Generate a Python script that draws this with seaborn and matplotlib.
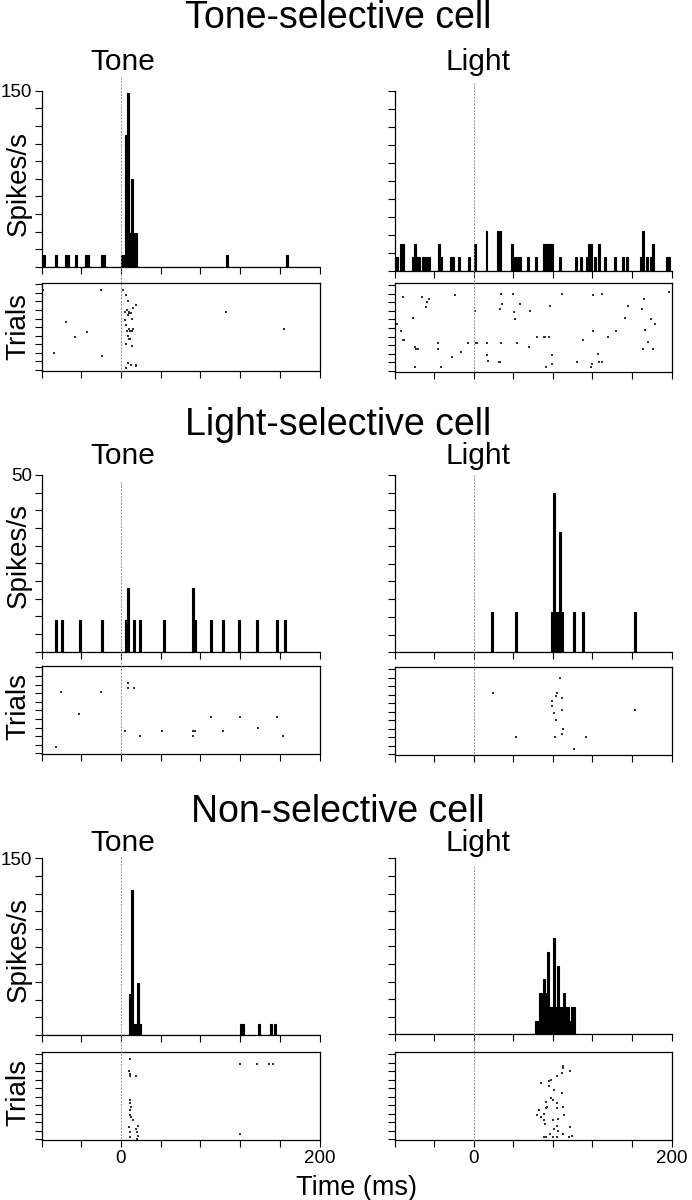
import numpy as np
import pandas as pd
import matplotlib
matplotlib.use("Agg")
import matplotlib.pyplot as plt
import matplotlib.transforms as mtransforms
from matplotlib.lines import Line2D
import seaborn as sns

sns.set_style("ticks")
plt.rcParams["font.family"] = ["Liberation Sans", "DejaVu Sans"]
plt.rcParams["text.color"] = "black"
plt.rcParams["axes.labelcolor"] = "black"
plt.rcParams["xtick.color"] = "black"
plt.rcParams["ytick.color"] = "black"

# ---------------- data ----------------
section_titles = ["Tone-selective cell", "Light-selective cell", "Non-selective cell"]
column_titles = ["Tone", "Light"]
y_max = [150, 50, 150]
x_tick_values = [-80, -40, 0, 40, 80, 120, 160, 200]
x_tick_labels = ["", "", "0", "", "", "", "", "200"]
BIN_W = 2

# PSTH: bin start (ms) and rate (spikes/s)
ts_tone_bins = [-78, -66, -56, -54, -46, -36, -34, -20, -18, 0, 2, 4, 6, 8, 10, 12, 14, 106, 166]
ts_tone_rate = [10, 10, 10, 10, 10, 10, 10, 10, 10, 10, 10, 112, 148, 29, 75, 29, 29, 10, 10]

ts_light_bins = [-80, -78, -74, -72, -62, -60, -58, -56, -52, -50, -48, -46, -36, -34, -24,
                 -22, -16, -6, 0, 12, 24, 26, 38, 40, 42, 44, 46, 54, 62, 70,
                 72, 74, 76, 78, 86, 102, 108, 114, 116, 118, 122, 126, 132, 142, 150,
                 154, 168, 170, 174, 178, 180, 194, 196]
ts_light_rate = [11.5, 11.5, 22, 22, 11.5, 22, 11.5, 11.5, 11.5, 11.5, 11.5, 11.5, 22, 11.5, 11.5,
                 11.5, 11.5, 11.5, 22, 33, 33, 33, 22, 11.5, 11.5, 11.5, 11.5, 11.5, 11.5, 22,
                 22, 22, 22, 22, 11.5, 11.5, 11.5, 11.5, 22, 22, 11.5, 22, 11.5, 11.5, 11.5,
                 11.5, 11.5, 33, 11.5, 11.5, 22, 11.5, 11.5]

ls_tone_bins = [-66, -60, -42, -20, 4, 6, 12, 18, 42, 72, 74, 90, 102, 118, 136, 156, 164]
ls_tone_rate = [9, 9, 9, 9, 9, 18, 9, 9, 9, 18, 9, 9, 9, 9, 9, 9, 9]

ls_light_bins = [18, 42, 78, 80, 82, 84, 86, 88, 100, 110, 162]
ls_light_rate = [11.3, 11.3, 11.3, 45, 11.3, 11.3, 34, 11.3, 11.3, 11.3, 11.3]

ns_tone_bins = [8, 10, 12, 14, 16, 18, 120, 122, 138, 150, 154]
ns_tone_rate = [35, 123, 9.3, 9.3, 44, 9.3, 9.3, 9.3, 9.3, 9.3, 9.3]

ns_light_bins = [62, 64, 66, 68, 70, 72, 74, 76, 78, 80, 82, 84, 86, 88, 90, 92, 94, 96, 98, 100]
ns_light_rate = [11.7, 11.7, 35, 35, 47, 35, 70, 23.4, 23.4, 82, 23.4, 58.5, 23.4, 23.4, 35,
                 23.4, 23.4, 11.7, 23.4, 23.4]

# Rasters: spike time (ms) and trial number
ts_tone_t = [-78.2, -20.2, 1.7, 5.0, 6.7, 15.1, 11.7, 4.3, 6.0, 7.7, 8.4, 10.1, 6.7, 10.7, 4.3,
             5.0, 8.4, 6.0, 9.4, 11.1, 11.7, 6.7, 7.7, 9.1, 5.0, 10.7, 6.7, 10.1, 5.0, 15.1,
             15.1, -55.6, -33.7, -46.2, -67.4, -19.2, 106.1, 164.3]
ts_tone_n = [47, 47, 47, 44, 40, 38, 36, 34, 35, 34, 33, 33, 32, 30, 29,
             26, 24, 23, 23, 23, 24, 20, 18, 18, 15, 14, 4, 3, 1, 3,
             2, 28, 22, 19, 10, 8, 34, 24]

ts_light_t = [-77.7, -73.4, -71.7, -71.0, -70.3, -61.6, -59.0, -58.3, -56.6, -59.3, -52.3, -48.2,
              -47.2, -44.9, -36.5, -35.8, -32.5, -21.4, -19.1, -13.1, -5.7, 1.0, 2.0, 3.0, 13.7,
              13.7, 14.4, 25.5, 26.5, 26.5, 27.8, 27.8, 28.8, 39.9, 40.5, 42.2, 43.9, 47.2, 56.3,
              57.3, 64.0, 70.7, 72.4, 76.4, 77.4, 79.1, 79.1, 73.4, 89.1, 104.2, 110.9, 118.3,
              119.3, 120.3, 120.9, 126.0, 127.0, 129.3, 130.0, 136.0, 144.4, 152.8, 156.2, 170.5,
              171.2, 172.2, 172.9, 176.2, 179.6, 181.2, 182.9, 197.0]
ts_light_n = [27, 23, 43, 18, 18, 31, 14, 13, 13, 2, 43, 37,
              40, 42, 16, 13, 2, 8, 44, 11, 16, 35, 16, 16, 16,
              9, 6, 5, 5, 36, 45, 16, 39, 45, 34, 30, 16, 39, 14,
              35, 20, 20, 20, 20, 38, 9, 4, 2, 45, 5, 18, 2,
              4, 23, 44, 10, 5, 45, 5, 20, 23, 31, 38, 36,
              13, 42, 24, 17, 30, 13, 27, 46]

ls_tone_t = [-60.6, -20.2, -42.1, -65.7, 6.7, 6.7, 12.8, 4.0, 19.5, 41.4, 72.3, 74.7, 72.3,
             90.9, 103.3, 119.5, 138.0, 157.6, 163.3]
ls_tone_n = [36, 36, 23, 4, 41, 38, 38, 13, 10, 13, 13, 13, 10, 21, 13, 21, 15, 21, 10]

ls_light_t = [19.3, 42.7, 79.6, 79.6, 80.9, 81.9, 83.6, 83.6, 84.2, 86.9, 89.3, 89.3, 90.3,
              89.3, 101.3, 113.1, 163.0]
ls_light_n = [36, 10, 31, 28, 24, 10, 20, 34, 36, 45, 33, 26, 15, 12, 3, 10, 26]

ns_tone_t = [8.7, 7.7, 8.7, 9.4, 15.5, 8.7, 9.4, 10.4, 9.4, 8.7, 10.4, 12.1, 7.7, 8.7, 8.7,
             15.5, 16.2, 17.2, 16.9, 16.2, 120.2, 137.4, 149.1, 153.2, 119.5]
ns_tone_n = [47, 40, 38, 37, 37, 23, 21, 19, 17, 14, 13, 11, 7, 4, 1,
             6, 4, 8, 2, 0, 44, 44, 44, 44, 3]

ns_light_t = [90.7, 90.7, 96.9, 89.7, 83.9, 78.7, 68.4, 76.3, 81.1, 89.7, 76.3, 78.7, 80.4,
              72.9, 83.9, 74.2, 90.7, 83.9, 72.9, 66.0, 71.1, 63.9, 67.7, 70.8, 91.8, 80.4,
              85.6, 71.9, 83.9, 97.6, 81.1, 85.6, 90.7, 77.0, 71.1, 73.6, 80.4, 84.5, 95.9, 99.4]
ns_light_n = [43, 42, 40, 39, 37, 35, 33, 34, 29, 27, 31, 24, 23, 22, 21, 19, 19, 18, 18, 17,
              15, 14, 13, 11, 14, 11, 12, 9, 8, 7, 6, 5, 3, 3, 1, 1, 1, 1, 1, 2]

hist_data = [[(ts_tone_bins, ts_tone_rate), (ts_light_bins, ts_light_rate)],
             [(ls_tone_bins, ls_tone_rate), (ls_light_bins, ls_light_rate)],
             [(ns_tone_bins, ns_tone_rate), (ns_light_bins, ns_light_rate)]]
raster_data = [[(ts_tone_t, ts_tone_n), (ts_light_t, ts_light_n)],
               [(ls_tone_t, ls_tone_n), (ls_light_t, ls_light_n)],
               [(ns_tone_t, ns_tone_n), (ns_light_t, ns_light_n)]]

# ---------------- layout (pixels) ----------------
W, H = 692, 1200
COL_X = [(41.5, 319.5), (394.5, 671.5)]
layout = [
    dict(hist=[(90.7, 266.7), (90.7, 270.7)], rast=[(282.7, 370.7), (283.3, 371.7)],
         title=28.5, col=70, dash=[77, 83], ylab=(184, 327)),
    dict(hist=[(475, 651.7), (475, 652.3)], rast=[(665.7, 754.3), (667.3, 755)],
         title=435, col=464, dash=[482, 475], ylab=(555, 707)),
    dict(hist=[(858.3, 1035), (858.3, 1034.3)], rast=[(1052.3, 1140), (1052.3, 1140)],
         title=822, col=851, dash=[857, 866], ylab=(950, 1093)),
]
col_title_x = [122.5, 478]

fig = plt.figure(figsize=(W / 100, H / 100), dpi=100)


def add_ax(xr, yr):
    x0, x1 = xr
    y0, y1 = yr
    return fig.add_axes([x0 / W, 1 - y1 / H, (x1 - x0) / W, (y1 - y0) / H])


SPINE_W = 0.9
TICK_KW = dict(direction="out", length=4.8, width=0.8, colors="black", labelsize=13.5, pad=2.2)

for s, lay in enumerate(layout):
    fig.text(338 / W, 1 - lay["title"] / H, section_titles[s], ha="center", va="baseline",
             fontsize=27, color="black")
    for c in range(2):
        fig.text(col_title_x[c] / W, 1 - lay["col"] / H, column_titles[c], ha="center",
                 va="baseline", fontsize=21.5, color="black")
        # histogram
        axh = add_ax(COL_X[c], lay["hist"][c])
        bins, rate = hist_data[s][c]
        df = pd.DataFrame({"t": np.asarray(bins, float) + BIN_W / 2, "r": rate})
        sns.histplot(data=df, x="t", weights="r", binwidth=BIN_W, binrange=(-80, 200),
                     ax=axh, color="black", edgecolor="black", linewidth=0.8, alpha=1.0,
                     element="bars", fill=True)
        axh.set_xlim(-80, 200)
        axh.set_ylim(0, y_max[s])
        axh.set_xlabel("")
        axh.set_ylabel("")
        for side in ["top", "right"]:
            axh.spines[side].set_visible(False)
        for side in ["left", "bottom"]:
            axh.spines[side].set_linewidth(SPINE_W)
            axh.spines[side].set_color("black")
        axh.set_xticks(x_tick_values)
        axh.set_xticklabels([])
        yt = np.linspace(0, y_max[s], 11)
        axh.set_yticks(yt)
        labs = [""] * 11
        if c == 0:
            labs[-1] = str(y_max[s])
        axh.set_yticklabels(labs)
        axh.tick_params(**TICK_KW)
        axh.patch.set_alpha(0)

        # raster
        axr = add_ax(COL_X[c], lay["rast"][c])
        tt, nn = raster_data[s][c]
        sns.scatterplot(x=tt, y=nn, ax=axr, color="#333333", marker="s", s=1.1,
                        linewidth=0, legend=False)
        axr.set_xlim(-80, 200)
        axr.set_ylim(-0.5, 51)
        axr.set_xlabel("")
        axr.set_ylabel("")
        for side in axr.spines:
            axr.spines[side].set_linewidth(SPINE_W)
            axr.spines[side].set_color("black")
        axr.set_xticks(x_tick_values)
        axr.set_xticklabels(x_tick_labels if s == 2 else [])
        axr.set_yticks(np.arange(0, 51, 5))
        axr.set_yticklabels([])
        axr.tick_params(**TICK_KW)
        axr.patch.set_alpha(0)

        # dashed stimulus-onset line
        trans = mtransforms.blended_transform_factory(axh.transData, fig.transFigure)
        y_bot = lay["rast"][c][1] + 1
        fig.add_artist(Line2D([0, 0], [1 - lay["dash"][c] / H, 1 - y_bot / H], transform=trans,
                              color="#808080", lw=0.6, ls=(0, (2.5, 1.5)), zorder=5))

    fig.text(19 / W, 1 - lay["ylab"][0] / H, "Spikes/s", rotation=90, ha="center",
             va="center", fontsize=20, color="black")
    fig.text(18 / W, 1 - lay["ylab"][1] / H, "Trials", rotation=90, ha="center",
             va="center", fontsize=20, color="black")

fig.text(357 / W, 1 - 1195 / H, "Time (ms)", ha="center", va="baseline", fontsize=19.5,
         color="black")

fig.savefig("out.png", dpi=100)
